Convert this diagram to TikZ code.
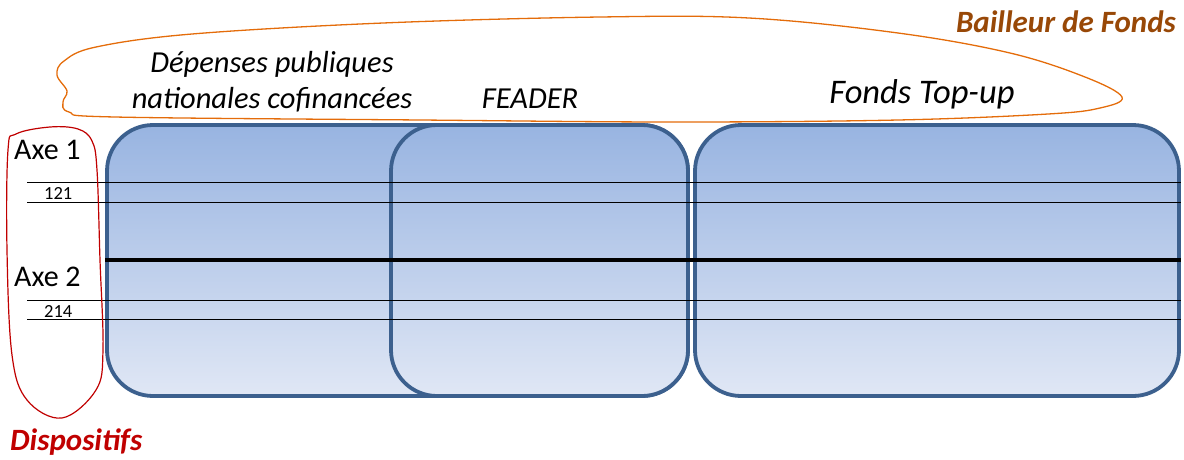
\documentclass[tikz,border=0pt]{standalone}
\usepackage{fontspec}
\setmainfont{Carlito}
\definecolor{boxedge}{RGB}{60,96,142}
\definecolor{boxtop}{RGB}{152,180,225}
\definecolor{boxbot}{RGB}{224,231,245}
\definecolor{orangeline}{RGB}{228,108,10}
\definecolor{redline}{RGB}{192,0,0}
\definecolor{brownlabel}{RGB}{152,72,7}
\tikzset{
  fundbox/.style={draw=boxedge, line width=3.8pt, rounded corners=46pt,
    top color=boxtop, bottom color=boxbot},
  rowline/.style={black, line width=1pt},
  axisline/.style={black, line width=4pt},
  heading/.style={font=\fontsize{30.5}{36}\selectfont\itshape, inner sep=0pt, align=center},
  tag/.style={font=\fontsize{31}{36}\selectfont\bfseries\itshape, inner sep=0pt},
  axelabel/.style={font=\fontsize{30}{34}\selectfont, anchor=base west, inner sep=0pt},
  codelabel/.style={font=\fontsize{18.5}{20}\selectfont, anchor=base west, inner sep=0pt},
}
\begin{document}
\begin{tikzpicture}[x=1pt, y=-1pt]
\useasboundingbox (0,0) rectangle (1184,459);

% three funding columns
\path[fundbox] (107,125) rectangle (688,396);
\path[fundbox] (391,125) rectangle (688,396);
\path[fundbox] (695,125) rectangle (1179,396);

% grid of measures
\coordinate (l1a) at (27,182);   \coordinate (r1a) at (1181,182);
\coordinate (l1b) at (27,202);   \coordinate (r1b) at (1181,202);
\coordinate (lmid) at (105,260); \coordinate (rmid) at (1181,260);
\coordinate (l2a) at (27,300);   \coordinate (r2a) at (1181,300);
\coordinate (l2b) at (27,319);   \coordinate (r2b) at (1181,319);
\draw[rowline] (l1a) -- (r1a);
\draw[rowline] (l1b) -- (r1b);
\draw[axisline] (lmid) -- (rmid);
\draw[rowline] (l2a) -- (r2a);
\draw[rowline] (l2b) -- (r2b);

% outline grouping the funders
\draw[orangeline, line width=1.3pt] plot[smooth cycle, tension=0.6] coordinates {
  (600,17) (749,18) (898,33) (1010,53) (1085,77) (1122,97) (1100,108)
  (1048,114) (898,120) (675,122) (421,120) (115,117) (69,112) (63,102)
  (67,91) (57,75) (64,61) (96,47) (192,34) (383,23)};

% outline grouping the measures
\draw[redline, line width=1.2pt] plot[smooth cycle, tension=0.6] coordinates {
  (50,127) (78,129) (92,141) (97,170) (100,260) (103,350) (96,390)
  (62,418) (27,400) (12,355) (7,250) (8,150) (16,134)};

% labels
\node[heading] (dep) at (272,82) {Dépenses publiques\\nationales cofinancées};
\node[heading] (feader) at (530,99) {FEADER};
\node[heading, font=\fontsize{34.5}{40}\selectfont\itshape] (topup) at (922,94) {Fonds Top-up};
\node[tag, text=brownlabel, anchor=base east] (bailleur) at (1176,32) {Bailleur de Fonds};
\node[tag, text=redline, anchor=base west] (dispo) at (10,450) {Dispositifs};
\node[axelabel] (axe1) at (14,159) {Axe 1};
\node[codelabel] (c121) at (44,199) {121};
\node[axelabel] (axe2) at (14,286) {Axe 2};
\node[codelabel] (c214) at (44,317) {214};
\end{tikzpicture}
\end{document}
